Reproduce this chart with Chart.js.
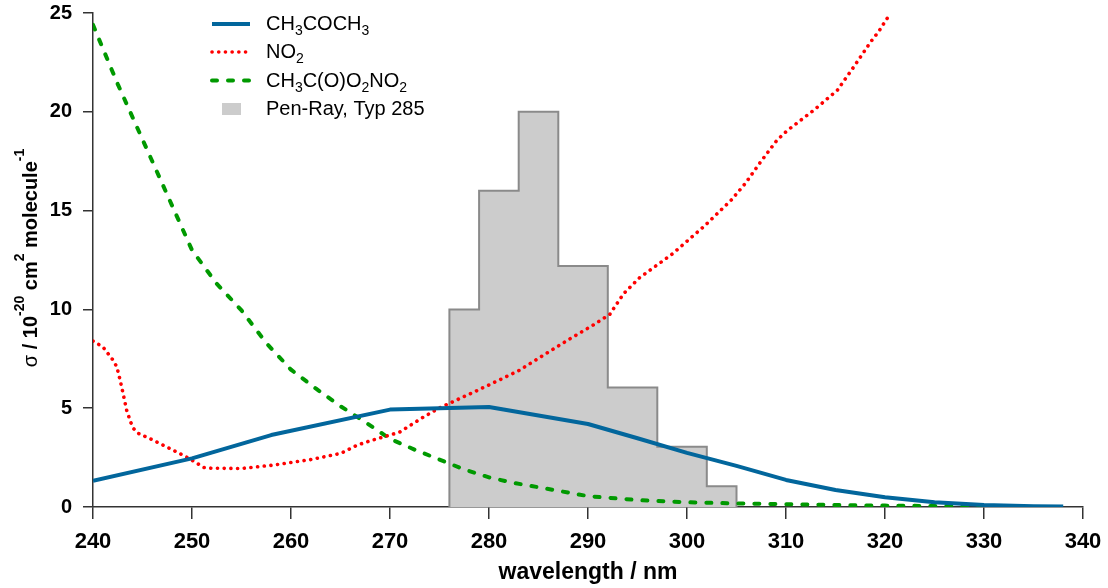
<!DOCTYPE html>
<html>
<head>
<meta charset="utf-8">
<script src="https://cdn.jsdelivr.net/npm/chart.js@4.4.1/dist/chart.umd.min.js"></script>
<style>
	html, body { margin: 0; padding: 0; background: #fff; }
</style>
</head>
<body>
<canvas id="chart" width="1108" height="588"></canvas>
<script>
// Data
const acetoneWl = [240, 250, 258, 270, 280, 290, 295, 300, 305, 310, 315, 320, 325, 330, 335, 338];
const acetoneSigma = [1.33, 2.46, 3.64, 4.93, 5.06, 4.2, 3.48, 2.74, 2.08, 1.37, 0.86, 0.49, 0.24, 0.1, 0.04, 0.02];

const no2Wl = [240, 241, 242, 242.4, 242.75, 243.1, 243.4, 243.8, 244.1, 244.6, 246, 248, 249.7, 251.2, 252, 255, 258.2, 262, 265, 266.7, 268, 270, 271, 273.4, 275.1, 277.8, 280.1, 283, 285.2, 288.2, 290.5, 292.2, 293.6, 295.2, 298.5, 301.8, 304.5, 305.9, 307.4, 309.1, 310.1, 312.8, 315.2, 316.8, 318.5, 319.4, 320.5];
const no2Sigma = [8.4, 8.1, 7.45, 7.1, 6.4, 5.6, 4.9, 4.3, 3.97, 3.72, 3.4, 2.9, 2.46, 2.0, 1.96, 1.95, 2.12, 2.4, 2.71, 3.13, 3.35, 3.64, 3.8, 4.56, 5.04, 5.66, 6.2, 6.9, 7.59, 8.52, 9.2, 9.75, 10.8, 11.6, 12.8, 14.24, 15.55, 16.38, 17.44, 18.57, 19.04, 20.08, 21.1, 22.24, 23.5, 24.09, 24.95];

const panWl = [240, 242.5, 245, 247.5, 250, 252.5, 255, 257.5, 260, 262.5, 265, 267.5, 270, 272.5, 275, 277.5, 280, 282.5, 285, 290, 295, 300, 305, 310, 315, 320, 325, 330.7];
const panSigma = [24.4, 21.4, 18.6, 15.8, 13.0, 11.3, 9.95, 8.3, 6.95, 6.0, 5.1, 4.3, 3.45, 2.9, 2.4, 1.9, 1.5, 1.22, 1.0, 0.55, 0.35, 0.24, 0.18, 0.14, 0.1, 0.07, 0.05, 0.03];

// Pen-Ray lamp: bin edges (nm) and heights
const penEdges = [276, 279, 283, 287, 292, 297, 302, 305];
const penValues = [10, 16, 20, 12.2, 6.05, 3.05, 1.05];

const xTicks = [240, 250, 260, 270, 280, 290, 300, 310, 320, 330, 340];
const yTicks = [0, 5, 10, 15, 20, 25];

const FONT = '"Liberation Sans", Arial, sans-serif';

function toPoints(xs, ys) {
	return xs.map((x, i) => ({ x: x, y: ys[i] }));
}

// outline of the lamp histogram: up at the first edge, across each bin, down at the last edge
function penPoints() {
	const pts = [{ x: penEdges[0], y: 0 }];
	penValues.forEach((v, i) => pts.push({ x: penEdges[i], y: v }));
	pts.push({ x: penEdges[penEdges.length - 1], y: 0 });
	return pts;
}

// text with sub/superscripts
function richWidth(ctx, parts, size) {
	let w = 0;
	parts.forEach(p => {
		const s = p[1] ? Math.round(size * 0.7) : size;
		ctx.font = `${p[2] || 'normal'} ${s}px ${FONT}`;
		w += ctx.measureText(p[0]).width;
	});
	return w;
}

function drawRich(ctx, parts, x, y, size) {
	let cx = x;
	parts.forEach(p => {
		const s = p[1] ? Math.round(size * 0.7) : size;
		ctx.font = `${p[2] || 'normal'} ${s}px ${FONT}`;
		let dy = 0;
		if (p[1] === 'sub') dy = size * 0.27;
		if (p[1] === 'sup') dy = -size * 0.65;
		ctx.fillText(p[0], cx, y + dy);
		cx += ctx.measureText(p[0]).width;
	});
}

const legendRows = [
	[['CH'], ['3', 'sub'], ['COCH'], ['3', 'sub']],
	[['NO'], ['2', 'sub']],
	[['CH'], ['3', 'sub'], ['C(O)O'], ['2', 'sub'], ['NO'], ['2', 'sub']],
	[['Pen-Ray, Typ 285']]
];

const yTitle = [['σ', '', 'normal'], [' / 10', '', 'bold'], ['-20', 'sup', 'bold'], [' cm', '', 'bold'], ['2', 'sup', 'bold'], [' molecule', '', 'bold'], ['-1', 'sup', 'bold']];

const extrasPlugin = {
	id: 'extras',
	afterDraw(chart) {
		const ctx = chart.ctx;
		ctx.save();
		ctx.fillStyle = '#000';
		ctx.textBaseline = 'alphabetic';
		ctx.textAlign = 'left';

		// y axis title, rotated
		const w = richWidth(ctx, yTitle, 20);
		ctx.save();
		ctx.translate(37, 258);
		ctx.rotate(-Math.PI / 2);
		drawRich(ctx, yTitle, -w / 2, 0, 20);
		ctx.restore();

		// legend
		const baselines = [30, 58, 86.5, 115];
		chart.data.datasets.forEach((ds, i) => {
			const b = baselines[i];
			const cy = b - 6;
			ctx.save();
			if (ds.fill) {
				ctx.fillStyle = ds.backgroundColor;
				ctx.fillRect(222, 103, 19, 12);
			} else {
				ctx.strokeStyle = ds.borderColor;
				ctx.lineWidth = ds.borderWidth;
				ctx.lineCap = ds.borderCapStyle || 'butt';
				ctx.setLineDash(ds.borderDash || []);
				ctx.beginPath();
				ctx.moveTo(212, cy);
				ctx.lineTo(250, cy);
				ctx.stroke();
			}
			ctx.restore();
			drawRich(ctx, legendRows[i], 266, b, 20);
		});
		ctx.restore();
	}
};

new Chart(document.getElementById('chart'), {
	type: 'line',
	data: {
		datasets: [
			{
				label: 'CH3COCH3',
				data: toPoints(acetoneWl, acetoneSigma),
				borderColor: '#02669c',
				borderWidth: 4,
				borderJoinStyle: 'round',
				pointRadius: 0,
				fill: false
			},
			{
				label: 'NO2',
				data: toPoints(no2Wl, no2Sigma),
				borderColor: '#ff0000',
				borderWidth: 3.6,
				borderDash: [0.1, 6.6],
				borderCapStyle: 'round',
				pointRadius: 0,
				fill: false
			},
			{
				label: 'CH3C(O)O2NO2',
				data: toPoints(panWl, panSigma),
				borderColor: '#009900',
				borderWidth: 4,
				borderDash: [5, 11],
				borderCapStyle: 'round',
				pointRadius: 0,
				fill: false
			},
			{
				label: 'Pen-Ray, Typ 285',
				data: penPoints(),
				stepped: 'before',
				borderColor: '#8a8a8a',
				borderWidth: 2,
				backgroundColor: '#cccccc',
				pointRadius: 0,
				fill: 'origin'
			}
		]
	},
	options: {
		responsive: false,
		animation: false,
		layout: { padding: { top: 13, right: 25, left: 0, bottom: 0 } },
		plugins: {
			legend: { display: false },
			tooltip: { enabled: false }
		},
		scales: {
			x: {
				type: 'linear',
				min: 240,
				max: 340,
				afterBuildTicks: s => { s.ticks = xTicks.map(v => ({ value: v })); },
				afterFit: s => {
					s.height = 81;
					s.paddingLeft = 0;
					s.paddingRight = 0;
				},
				ticks: { color: '#000', font: { family: FONT, size: 22, weight: 'bold' }, padding: 10, maxRotation: 0 },
				grid: { drawOnChartArea: false, drawTicks: true, tickLength: 12, color: '#333', lineWidth: 1.5 },
				border: { display: true, color: '#333', width: 1.5 },
				title: {
					display: true,
					text: 'wavelength / nm',
					color: '#000',
					font: { family: FONT, size: 23, weight: 'bold' },
					padding: { top: 0, bottom: 2 }
				}
			},
			y: {
				min: 0,
				max: 25,
				afterBuildTicks: s => { s.ticks = yTicks.map(v => ({ value: v })); },
				afterFit: s => {
					s.width = 93;
					s.paddingTop = 0;
					s.paddingBottom = 0;
				},
				ticks: { color: '#000', font: { family: FONT, size: 20, weight: 'bold' }, padding: 11 },
				grid: { drawOnChartArea: false, drawTicks: true, tickLength: 10, color: '#333', lineWidth: 1.5 },
				border: { display: true, color: '#333', width: 1.5 }
			}
		}
	},
	plugins: [extrasPlugin]
});
</script>
</body>
</html>
